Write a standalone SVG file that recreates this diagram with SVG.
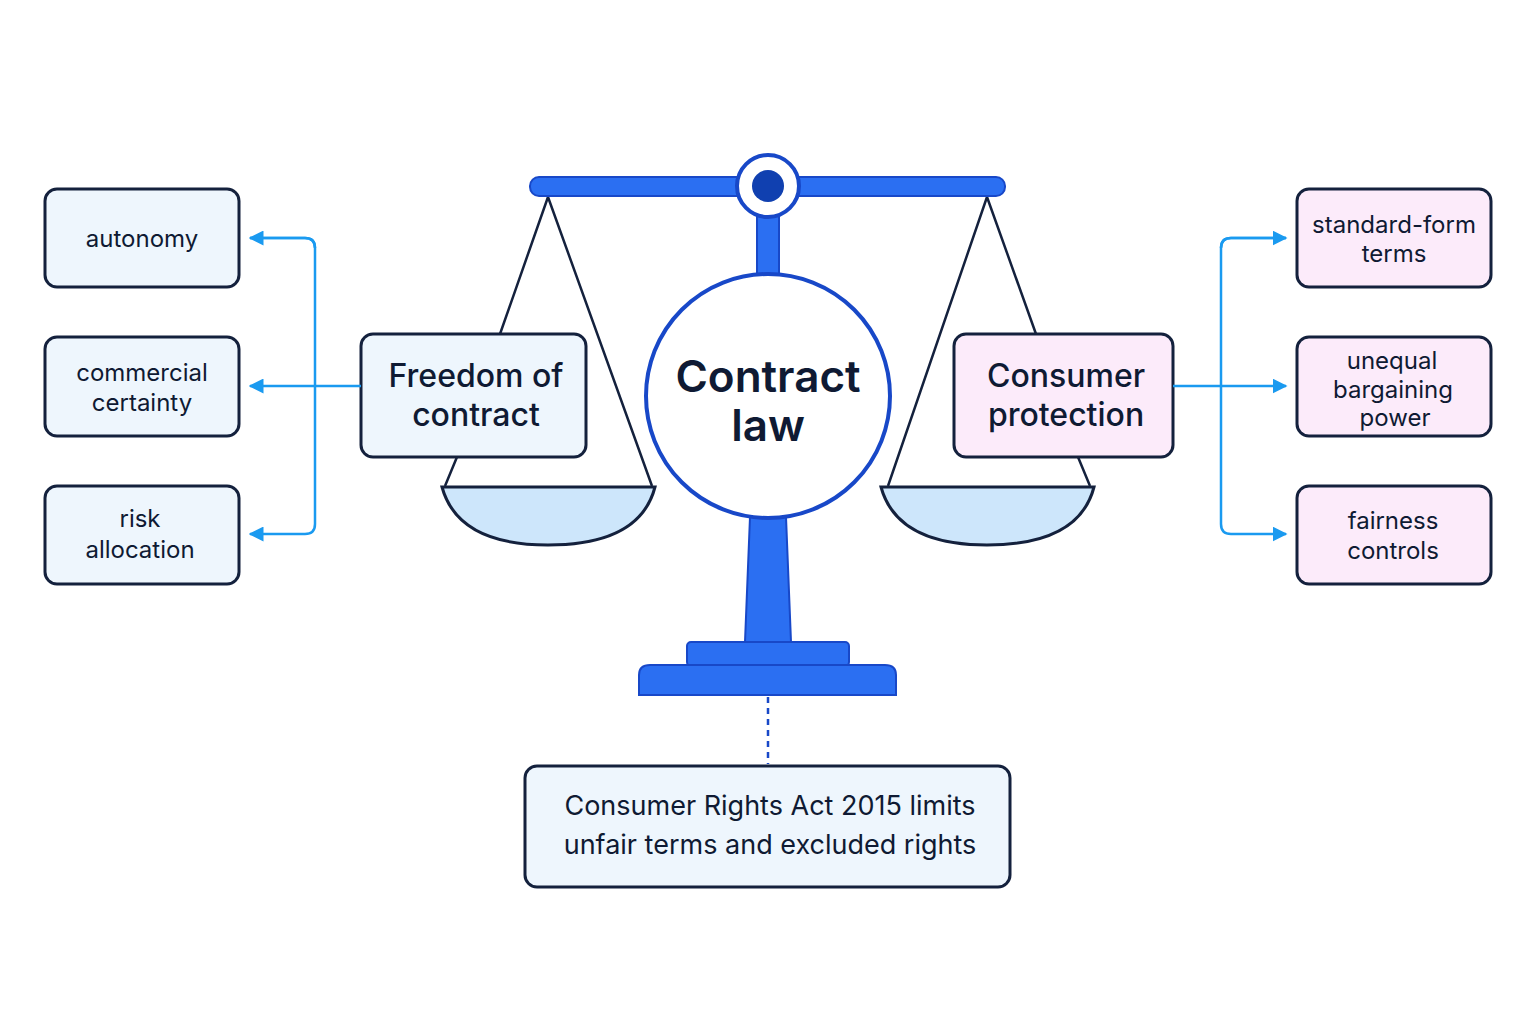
<svg xmlns="http://www.w3.org/2000/svg" width="1536" height="1024" viewBox="0 0 1536 1024">
<style>
text{font-family:Inter,"Noto Sans","Liberation Sans",sans-serif;fill:#0f1a33;text-anchor:middle}
.bl{fill:#eef6fd;stroke:#14213d;stroke-width:3}
.pk{fill:#fcebfa;stroke:#14213d;stroke-width:3}
.sm{font-size:24px}
.big{font-size:32px;font-weight:500}
.blue{fill:#2b6ff2;stroke:#1848c8;stroke-width:2}
.str{stroke:#14213d;stroke-width:2.5;fill:none}
.pan{fill:#cde6fb;stroke:#14213d;stroke-width:3}
.con{stroke:#1a9af0;stroke-width:2.5;fill:none}
</style>
<defs><marker id="ah" viewBox="0 0 10 10" refX="9" refY="5" markerWidth="6" markerHeight="6" orient="auto"><path d="M0,0L10,5L0,10z" fill="#1a9af0"/></marker></defs>
<rect width="1536" height="1024" fill="#fff"/>
<g id="scale">
<path class="str" d="M548,197L500,334M548,197L652,486M457,457L445,486"/>
<path class="str" d="M987,197L888,486M987,197L1036,334M1078,457L1090,486"/>
<path class="pan" d="M442,487H655Q640,545 548,545Q458,545 442,487Z"/>
<path class="pan" d="M881,487H1094Q1079,545 987,545Q897,545 881,487Z"/>
<rect class="blue" x="530" y="177" width="475" height="19" rx="9"/>
<rect class="blue" x="757" y="212" width="22" height="64"/>
<path class="blue" d="M750,517H786L791,642H745Z"/>
<rect class="blue" x="687" y="642" width="162" height="24" rx="4"/>
<path class="blue" d="M639,695V675Q639,665 650,665H885Q896,665 896,675V695Z"/>
<circle cx="768" cy="186" r="31" fill="#fff" stroke="#1848c8" stroke-width="4"/>
<circle cx="768" cy="186" r="16" fill="#1040b0"/>
</g>
<g id="center"><circle cx="768" cy="396" r="122" fill="#fff" stroke="#1848c8" stroke-width="4"/>
<text x="768" y="392" font-size="44" font-weight="600">Contract</text><text x="768" y="441" font-size="44" font-weight="600">law</text></g>
<g id="freedom"><rect class="bl" x="361" y="334" width="225" height="123" rx="12"/><text class="big" x="476" y="387">Freedom of</text><text class="big" x="476" y="426">contract</text></g>
<g id="consumer"><rect class="pk" x="954" y="334" width="219" height="123" rx="12"/><text class="big" x="1066" y="387">Consumer</text><text class="big" x="1066" y="426">protection</text></g>
<g id="autonomy"><rect class="bl" x="45" y="189" width="194" height="98" rx="12"/><text class="sm" x="142" y="247">autonomy</text></g>
<g id="certainty"><rect class="bl" x="45" y="337" width="194" height="99" rx="12"/><text class="sm" x="142" y="381">commercial</text><text class="sm" x="142" y="411">certainty</text></g>
<g id="risk"><rect class="bl" x="45" y="486" width="194" height="98" rx="12"/><text class="sm" x="140" y="527">risk</text><text class="sm" x="140" y="558">allocation</text></g>
<g id="standard"><rect class="pk" x="1297" y="189" width="194" height="98" rx="12"/><text class="sm" x="1394" y="233">standard-form</text><text class="sm" x="1394" y="262">terms</text></g>
<g id="unequal"><rect class="pk" x="1297" y="337" width="194" height="99" rx="12"/><text class="sm" x="1392" y="369">unequal</text><text class="sm" x="1393" y="398">bargaining</text><text class="sm" x="1395" y="426">power</text></g>
<g id="fairness"><rect class="pk" x="1297" y="486" width="194" height="98" rx="12"/><text class="sm" x="1393" y="529">fairness</text><text class="sm" x="1393" y="559">controls</text></g>
<g id="act"><rect class="bl" x="525" y="766" width="485" height="121" rx="12"/><text x="770" y="815" font-size="27">Consumer Rights Act 2015 limits</text><text x="770" y="854" font-size="27">unfair terms and excluded rights</text></g>
<g id="connectors">
<path class="con" d="M361,386H250" marker-end="url(#ah)"/>
<path class="con" d="M250,238H305Q315,238 315,248V524Q315,534 305,534H250" marker-end="url(#ah)"/>
<path class="con" d="M315,248Q315,238 305,238H250" marker-end="url(#ah)"/>
<path class="con" d="M1173,386H1286" marker-end="url(#ah)"/>
<path class="con" d="M1286,238H1231Q1221,238 1221,248V524Q1221,534 1231,534H1286" marker-end="url(#ah)"/>
<path class="con" d="M1221,248Q1221,238 1231,238H1286" marker-end="url(#ah)"/>
<path d="M768,697V764" stroke="#1848c8" stroke-width="2.5" stroke-dasharray="6,5"/>
</g>
</svg>
